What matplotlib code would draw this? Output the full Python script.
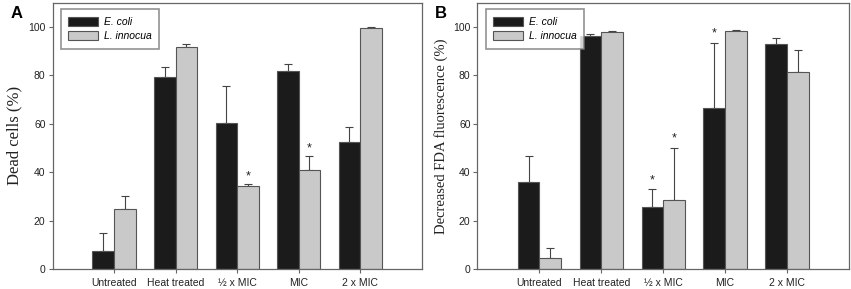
import numpy as np
import matplotlib
matplotlib.use("Agg")
import matplotlib.pyplot as plt
from matplotlib.patches import Patch

categories = ["Untreated", "Heat treated", "\u00bd x MIC", "MIC", "2 x MIC"]
series = ["E. coli", "L. innocua"]

# Panel A: Dead cells (%)
a_ecoli = [7.4, 79.4, 60.3, 81.6, 52.4]
a_ecoli_err = [7.5, 4.2, 15.1, 3.2, 6.4]
a_linn = [24.8, 91.7, 34.1, 40.8, 99.7]
a_linn_err = [5.3, 1.2, 1.2, 5.8, 0.3]
a_star_ecoli = [None, None, None, None, None]
a_star_linn = [None, None, 38.2, 49.8, None]

# Panel B: Decreased FDA fluorescence (%)
b_ecoli = [35.9, 96.3, 25.7, 66.6, 92.8]
b_ecoli_err = [10.6, 0.9, 7.3, 26.8, 2.8]
b_linn = [4.4, 97.8, 28.6, 98.5, 81.4]
b_linn_err = [4.4, 0.4, 21.5, 0.4, 9.2]
b_star_ecoli = [None, None, 36.6, 97.3, None]
b_star_linn = [None, None, 54.0, None, None]

yticks = [0, 20, 40, 60, 80, 100]

c_ecoli = "#1b1b1b"
c_linn = "#c9c9c9"
edge = "#555555"
spine = "#666666"

sans = ["Liberation Sans", "DejaVu Sans"]
serif = ["Liberation Serif", "DejaVu Serif"]

fig = plt.figure(figsize=(8.51, 2.89), dpi=100)

def panel(rect, e, ee, l, le, se, sl, ylabel, ylsize, letter, letter_x):
    ax = fig.add_axes(rect)
    x = np.arange(len(categories))
    w = 0.35
    ax.bar(x - w / 2, e, w, color=c_ecoli, edgecolor=edge, linewidth=0.8, zorder=2)
    ax.bar(x + w / 2, l, w, color=c_linn, edgecolor=edge, linewidth=0.8, zorder=2)
    ax.errorbar(x - w / 2, e, yerr=[np.zeros(len(e)), ee], fmt="none",
                ecolor="#444444", elinewidth=0.8, capsize=3, capthick=0.8, zorder=1)
    ax.errorbar(x + w / 2, l, yerr=[np.zeros(len(l)), le], fmt="none",
                ecolor="#444444", elinewidth=0.8, capsize=3, capthick=0.8, zorder=1)
    for i, s in enumerate(se):
        if s is not None:
            ax.text(x[i] - w / 2, s, "*", ha="center", va="center", fontsize=9,
                    family=sans, color="#222222")
    for i, s in enumerate(sl):
        if s is not None:
            ax.text(x[i] + w / 2, s, "*", ha="center", va="center", fontsize=9,
                    family=sans, color="#222222")
    ax.set_xlim(-1, 5)
    ax.set_ylim(0, 110)
    ax.set_yticks(yticks)
    ax.set_yticklabels([str(v) for v in yticks], fontsize=7.5, family=sans, color="#222222")
    ax.set_xticks(x)
    ax.set_xticklabels(categories, fontsize=7.5, family=sans, color="#222222")
    ax.tick_params(axis="both", direction="out", length=3, width=0.8, color=spine, pad=2)
    ax.tick_params(axis="x", pad=3.5)
    for sp in ax.spines.values():
        sp.set_color(spine)
        sp.set_linewidth(0.9)
    ax.set_ylabel(ylabel, family=serif, fontsize=ylsize, color="#222222", labelpad=4)
    handles = [Patch(facecolor=c_ecoli, edgecolor=edge, linewidth=0.8),
               Patch(facecolor=c_linn, edgecolor=edge, linewidth=0.8)]
    leg = ax.legend(handles, series, loc="upper left", bbox_to_anchor=(0.022, 0.975),
                    prop={"family": sans, "style": "italic", "size": 7.5},
                    frameon=True, fancybox=False, edgecolor="#777777",
                    handlelength=2.8, handleheight=0.9, borderpad=0.75,
                    labelspacing=0.4, handletextpad=0.6, borderaxespad=0)
    leg.get_frame().set_linewidth(1.2)
    fig.text(letter_x, 0.955, letter, fontsize=12, fontweight="bold", family=sans,
             ha="left", va="center")
    return ax

panel([0.0617, 0.0692, 0.4338, 0.9215], a_ecoli, a_ecoli_err, a_linn, a_linn_err,
      a_star_ecoli, a_star_linn, "Dead cells (%)", 12, "A", 0.012)
panel([0.5611, 0.0692, 0.4365, 0.9215], b_ecoli, b_ecoli_err, b_linn, b_linn_err,
      b_star_ecoli, b_star_linn, "Decreased FDA fluorescence (%)", 10.5, "B", 0.511)

fig.savefig("out.png", dpi=100)
